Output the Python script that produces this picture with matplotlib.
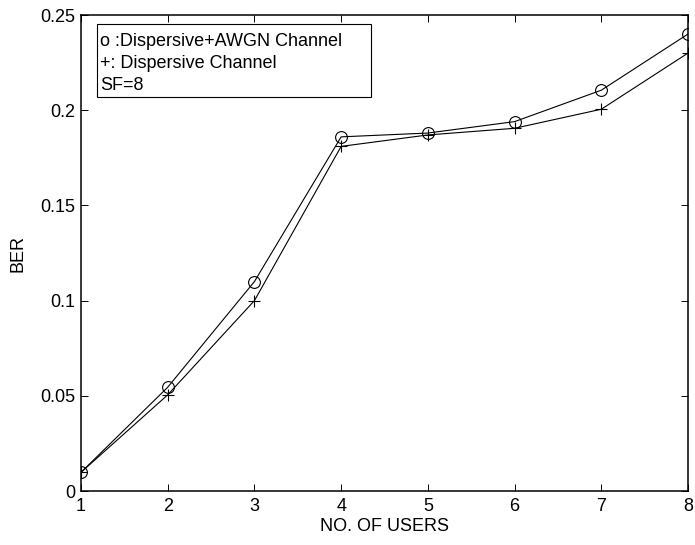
import matplotlib
matplotlib.use('Agg')
import matplotlib.pyplot as plt
from matplotlib.patches import Rectangle

# Datos
usuarios = [1, 2, 3, 4, 5, 6, 7, 8]
ber_awgn = [0.0098, 0.0545, 0.110, 0.186, 0.188, 0.194, 0.2105, 0.240]
ber_disp = [0.0098, 0.0505, 0.100, 0.181, 0.187, 0.1905, 0.2005, 0.230]

xticks = [1, 2, 3, 4, 5, 6, 7, 8]
yticks = [0, 0.05, 0.1, 0.15, 0.2, 0.25]
ytick_labels = ['0', '0.05', '0.1', '0.15', '0.2', '0.25']

lineas_leyenda = ['o :Dispersive+AWGN Channel', '+: Dispersive Channel', 'SF=8']

plt.rcParams['font.family'] = ['Liberation Sans', 'DejaVu Sans']
plt.rcParams['font.size'] = 13

fig = plt.figure(figsize=(6.95, 5.45), dpi=100)
ax = fig.add_axes([81 / 695, 54 / 545, 607 / 695, 476 / 545])

ax.plot(usuarios, ber_awgn, color='black', linewidth=0.8, marker='o', markersize=8.5,
        markerfacecolor='none', markeredgecolor='black', markeredgewidth=0.8)
ax.plot(usuarios, ber_disp, color='black', linewidth=0.8, marker='+', markersize=9,
        markeredgewidth=0.8)

ax.set_xlim(1, 8)
ax.set_ylim(0, 0.25)
ax.set_xticks(xticks)
ax.set_yticks(yticks)
ax.set_yticklabels(ytick_labels)
ax.tick_params(direction='in', length=5, width=0.7, top=True, right=True, pad=4)
ax.tick_params(axis='x', pad=5)
for s in ax.spines.values():
    s.set_linewidth(1.1)

ax.set_xlabel('NO. OF USERS', labelpad=2)
ax.set_ylabel('BER', labelpad=10)

# Caja de leyenda (texto con marco, como en MATLAB)
ax.add_patch(Rectangle((0.026, 0.828), 0.452, 0.153, transform=ax.transAxes,
                       facecolor='white', edgecolor='black', linewidth=0.8, zorder=5))
for i, t in enumerate(lineas_leyenda):
    ax.text(0.031, 0.945 - i * 0.047, t, transform=ax.transAxes, va='center', ha='left', zorder=6)

fig.savefig('out.png', dpi=100)
